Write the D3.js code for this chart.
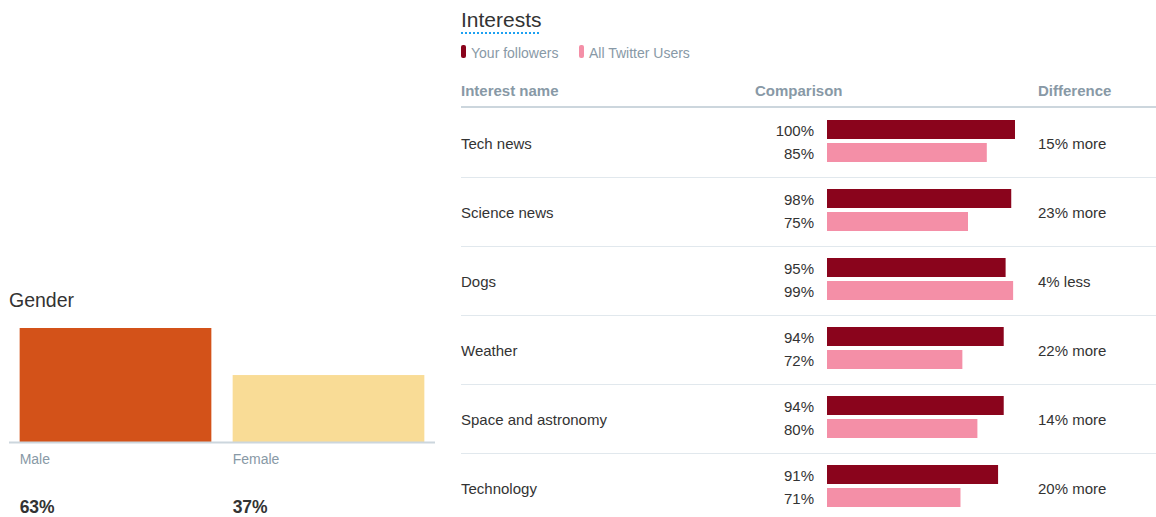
<!DOCTYPE html>
<html>
<head>
<meta charset="utf-8">
<script src="https://cdn.jsdelivr.net/npm/d3@7"></script>
<style>
  html, body { margin: 0; padding: 0; background: #fff; }
  svg { display: block; font-family: "Helvetica Neue", Helvetica, Arial, "Liberation Sans", sans-serif; }
</style>
</head>
<body>
<div id="chart"></div>
<script>
// Gender data
const genders = ["Male", "Female"];
const genderValues = [63, 37];
const genderColors = ["#d35219", "#f9dc96"];

// Interests data
const interests = ["Tech news", "Science news", "Dogs", "Weather", "Space and astronomy", "Technology"];
const followerPct = [100, 98, 95, 94, 94, 91];
const allUsersPct = [85, 75, 99, 72, 80, 71];
const differences = ["15% more", "23% more", "4% less", "22% more", "14% more", "20% more"];
const seriesNames = ["Your followers", "All Twitter Users"];
const seriesColors = ["#8a041c", "#f48fa7"];

const width = 1156, height = 517;
const svg = d3.select("#chart").append("svg")
    .attr("width", width)
    .attr("height", height);

// ---------------- Gender panel ----------------
const gender = svg.append("g");

gender.append("text")
    .attr("x", 9).attr("y", 307)
    .attr("fill", "#333")
    .style("font-size", "19.5px")
    .style("font-weight", 300)
    .text("Gender");

const gx = d3.scaleBand().domain(genders).range([9, 435]).paddingInner(0.1).paddingOuter(0.05);
const gy = d3.scaleLinear().domain([0, d3.max(genderValues)]).range([442, 328]);

gender.selectAll("rect.bar")
    .data(genders)
    .enter().append("rect")
    .attr("class", "bar")
    .attr("x", d => gx(d))
    .attr("y", (d, i) => gy(genderValues[i]))
    .attr("width", gx.bandwidth())
    .attr("height", (d, i) => gy(0) - gy(genderValues[i]))
    .attr("fill", (d, i) => genderColors[i]);

gender.append("line")
    .attr("x1", 9).attr("x2", 435)
    .attr("y1", 442.5).attr("y2", 442.5)
    .attr("stroke", "#ccd6dd")
    .attr("stroke-width", 2);

gender.selectAll("text.gname")
    .data(genders)
    .enter().append("text")
    .attr("class", "gname")
    .attr("x", d => gx(d))
    .attr("y", 464)
    .attr("fill", "#8899a6")
    .style("font-size", "14px")
    .text(d => d);

gender.selectAll("text.gval")
    .data(genders)
    .enter().append("text")
    .attr("class", "gval")
    .attr("x", d => gx(d))
    .attr("y", 513)
    .attr("fill", "#333")
    .style("font-size", "17.5px")
    .style("font-weight", "bold")
    .text((d, i) => genderValues[i] + "%");

// ---------------- Interests panel ----------------
const ints = svg.append("g");

ints.append("text")
    .attr("x", 461).attr("y", 27)
    .attr("fill", "#333")
    .style("font-size", "21px")
    .style("font-weight", 300)
    .text("Interests");

ints.append("line")
    .attr("x1", 461).attr("x2", 541)
    .attr("y1", 33).attr("y2", 33)
    .attr("stroke", "#1da1f2")
    .attr("stroke-width", 2)
    .attr("stroke-dasharray", "2,2");

// Legend
const legendX = [461, 579];
const legend = ints.selectAll("g.legend")
    .data(seriesNames)
    .enter().append("g")
    .attr("class", "legend")
    .attr("transform", (d, i) => `translate(${legendX[i]},0)`);

legend.append("rect")
    .attr("x", 0).attr("y", 45)
    .attr("width", 5).attr("height", 13)
    .attr("rx", 2)
    .attr("fill", (d, i) => seriesColors[i]);

legend.append("text")
    .attr("x", 10).attr("y", 58)
    .attr("fill", "#8899a6")
    .style("font-size", "14px")
    .text(d => d);

// Table header
const headers = [
    { label: "Interest name", x: 461 },
    { label: "Comparison", x: 755 },
    { label: "Difference", x: 1038 }
];
ints.selectAll("text.head")
    .data(headers)
    .enter().append("text")
    .attr("class", "head")
    .attr("x", d => d.x).attr("y", 96)
    .attr("fill", "#8899a6")
    .style("font-size", "15px")
    .style("font-weight", "bold")
    .text(d => d.label);

ints.append("line")
    .attr("x1", 461).attr("x2", width)
    .attr("y1", 107).attr("y2", 107)
    .attr("stroke", "#ccd6dd")
    .attr("stroke-width", 2);

// Rows
const rowY = d3.scaleBand().domain(interests).range([108, 108 + 69 * interests.length]);
const bx = d3.scaleLinear().domain([0, 100]).range([827, 1015]);
const barH = 19;

const rows = ints.selectAll("g.row")
    .data(interests)
    .enter().append("g")
    .attr("class", "row")
    .attr("transform", d => `translate(0,${rowY(d)})`);

rows.filter((d, i) => i < interests.length - 1)
    .append("line")
    .attr("x1", 461).attr("x2", width)
    .attr("y1", rowY.bandwidth() + 0.5).attr("y2", rowY.bandwidth() + 0.5)
    .attr("stroke", "#e1e8ed")
    .attr("stroke-width", 1);

rows.append("text")
    .attr("x", 461).attr("y", 36)
    .attr("dy", "0.35em")
    .attr("fill", "#333")
    .style("font-size", "15px")
    .text(d => d);

rows.append("text")
    .attr("x", 1038).attr("y", 36)
    .attr("dy", "0.35em")
    .attr("fill", "#333")
    .style("font-size", "15px")
    .text((d, i) => differences[i]);

const seriesData = [followerPct, allUsersPct];
const barTop = [12, 35];

seriesData.forEach((vals, s) => {
    rows.append("rect")
        .attr("x", bx(0))
        .attr("y", barTop[s])
        .attr("width", (d, i) => bx(vals[i]) - bx(0))
        .attr("height", barH)
        .attr("fill", seriesColors[s]);

    rows.append("text")
        .attr("x", 814)
        .attr("y", barTop[s] + barH / 2 + 1)
        .attr("dy", "0.35em")
        .attr("text-anchor", "end")
        .attr("fill", "#333")
        .style("font-size", "15px")
        .text((d, i) => vals[i] + "%");
});
</script>
</body>
</html>
